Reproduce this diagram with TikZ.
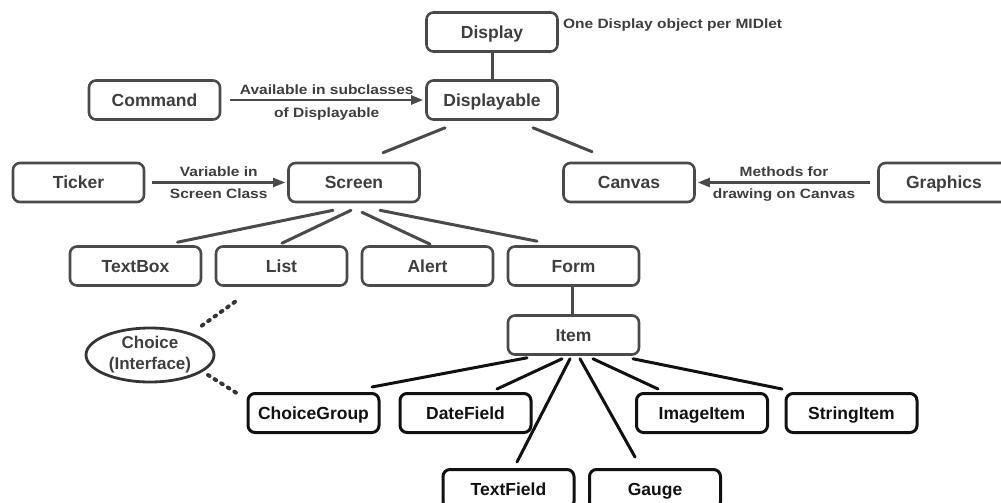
\documentclass[tikz,border=0pt]{standalone}
\usepackage{fontspec}
\setmainfont{Liberation Sans}
\newfontfamily\notefont[FakeStretch=1.15]{Liberation Sans Bold}
\usetikzlibrary{calc,shapes.geometric,arrows.meta}

\definecolor{edgegrey}{HTML}{4A4A4A}
\definecolor{textgrey}{HTML}{3E3E3E}
\definecolor{inkblack}{HTML}{111111}

\tikzset{
  classbox/.style={draw=edgegrey, line width=2.6pt, rounded corners=7pt,
    minimum width=131pt, minimum height=39pt, inner sep=0pt, text=textgrey,
    text height=12.6pt, text depth=0pt,
    font=\fontsize{17.5}{20}\selectfont\bfseries},
  leafbox/.style={classbox, draw=inkblack, line width=3pt, text=inkblack},
  iface/.style={ellipse, draw=inkblack!85, line width=2.8pt, minimum width=128pt,
    minimum height=54pt, inner sep=0pt, text=textgrey, align=center,
    font=\fontsize{17}{21}\selectfont\bfseries},
  link/.style={draw=edgegrey, line width=3pt, line cap=round},
  leaflink/.style={draw=inkblack, line width=3pt, line cap=round},
  uses/.style={draw=edgegrey, line width=2.2pt,
    -{Triangle[length=12pt,width=9pt]}},
  realizes/.style={draw=inkblack!85, line width=4pt, line cap=round,
    dash pattern=on 1.8pt off 6pt},
  note/.style={text=textgrey, inner sep=0pt,
    font=\notefont\fontsize{13.5}{15}\selectfont},
}

\begin{document}
\begin{tikzpicture}[x=1pt,y=-1pt]
  \useasboundingbox (0,0) rectangle (1001,503);
  \clip (0,0) rectangle (1001,503);

  % class boxes
  \node[classbox] (display)     at (492,32)    {Display};
  \node[classbox] (displayable) at (492,100)   {Displayable};
  \node[classbox] (command)     at (154.5,100) {Command};
  \node[classbox] (ticker)      at (78.5,182.5) {Ticker};
  \node[classbox] (screen)      at (354,182.5) {Screen};
  \node[classbox] (canvas)      at (629,182.5) {Canvas};
  \node[classbox] (graphics)    at (944,182.5) {Graphics};
  \node[classbox] (textbox)     at (135.5,266) {TextBox};
  \node[classbox] (list)        at (281.5,266) {List};
  \node[classbox] (alert)       at (427.5,266) {Alert};
  \node[classbox] (form)        at (573.5,266) {Form};
  \node[classbox] (item)        at (573.5,335) {Item};

  \node[iface] (choice) at (150,355) {Choice\\(Interface)};

  \node[leafbox] (choicegroup) at (313.5,413) {ChoiceGroup};
  \node[leafbox] (datefield)   at (465.5,413) {DateField};
  \node[leafbox] (imageitem)   at (702,413)   {ImageItem};
  \node[leafbox] (stringitem)  at (851.5,413) {StringItem};
  \node[leafbox] (textfield)   at (508.5,489) {TextField};
  \node[leafbox] (gauge)       at (655,489)   {Gauge};

  % side note
  \node[note, anchor=west] (onenote) at ($(display.east)+(4,-7)$)
    {One Display object per MIDlet};

  % hierarchy links
  \draw[link] (display.south) -- (displayable.north);
  \draw[link] ($(displayable.south)+(-47,7)$) -- ($(screen.north)+(29,-9)$);
  \draw[link] ($(displayable.south)+(41,7)$) -- ($(canvas.north)+(-37,-10)$);
  \draw[link] ($(screen.south)+(-21,7)$) -- ($(textbox.north)+(42,-3)$);
  \draw[link] ($(screen.south)+(-3,7)$) -- ($(list.north)+(0.5,-2)$);
  \draw[link] ($(screen.south)+(8,9)$) -- ($(alert.north)+(2.5,-1)$);
  \draw[link] ($(screen.south)+(26,7)$) -- ($(form.north)+(-36.5,-4)$);
  \draw[link] ($(form.south)+(-1.5,0)$) -- ($(item.north)+(-1.5,0)$);

  \draw[leaflink] ($(item.south)+(-46.5,2)$) -- ($(choicegroup.north)+(58.5,-5)$);
  \draw[leaflink] ($(item.south)+(-11.5,3)$) -- ($(datefield.north)+(31.5,-3)$);
  \draw[leaflink] ($(item.south)+(-3.5,3)$) -- ($(textfield.north)+(8.5,-6)$);
  \draw[leaflink] ($(item.south)+(6.5,3)$) -- ($(gauge.north)+(-20,-11)$);
  \draw[leaflink] ($(item.south)+(19.5,3)$) -- ($(imageitem.north)+(-44,-3)$);
  \draw[leaflink] ($(item.south)+(59.5,3)$) -- ($(stringitem.north)+(-69.5,-3)$);

  % interface realisation (dotted)
  \draw[realizes] ($(list.south)+(-46.5,15)$) -- ($(choice.center)+(50,-28)$);
  \draw[realizes] ($(choice.center)+(58,20)$) -- ($(choicegroup.west)+(-10,-20)$);

  % usage arrows with labels
  \draw[uses] ($(command.east)+(9,0)$) -- ($(displayable.west)+(-2,0)$)
    node[note, midway, above=4pt] {Available in subclasses}
    node[note, midway, below=7pt] {of Displayable};
  \draw[uses] ($(ticker.east)+(7,0)$) -- ($(screen.west)+(-2,0)$)
    node[note, midway, above=5pt] {Variable in}
    node[note, midway, below=5pt] {Screen Class};
  \draw[uses] ($(graphics.west)+(-7,0)$) -- ($(canvas.east)+(2,0)$)
    node[note, midway, above=5pt] {Methods for}
    node[note, midway, below=5pt] {drawing on Canvas};
\end{tikzpicture}
\end{document}
